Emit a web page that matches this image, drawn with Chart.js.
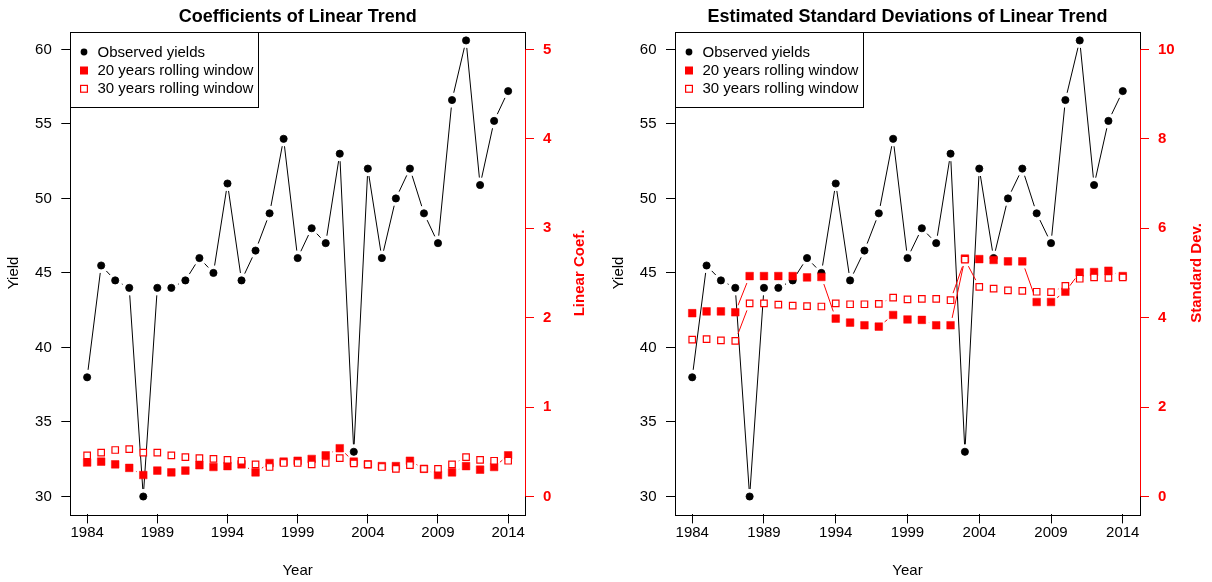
<!DOCTYPE html>
<html>
<head>
<meta charset="utf-8">
<script src="https://cdn.jsdelivr.net/npm/chart.js@4/dist/chart.umd.min.js"></script>
<style>
  body { margin: 0; background: #fff; width: 1212px; height: 582px; overflow: hidden; }
  .panel { position: absolute; top: 0; width: 606px; height: 582px; }
</style>
</head>
<body>
<div class="panel" style="left:0"><canvas id="coefChart"></canvas></div>
<div class="panel" style="left:606px"><canvas id="sdChart"></canvas></div>
<script>
// data
const years = [1984, 1985, 1986, 1987, 1988, 1989, 1990, 1991, 1992, 1993, 1994, 1995, 1996, 1997, 1998,
  1999, 2000, 2001, 2002, 2003, 2004, 2005, 2006, 2007, 2008, 2009, 2010, 2011, 2012, 2013, 2014];
const yields = [38, 45.5, 44.5, 44, 30, 44, 44, 44.5, 46, 45, 51, 44.5, 46.5, 49, 54,
  46, 48, 47, 53, 33, 52, 46, 50, 52, 49, 47, 56.6, 60.6, 50.9, 55.2, 57.2];
const coef20 = [0.38, 0.39, 0.36, 0.32, 0.24, 0.29, 0.27, 0.29, 0.35, 0.33, 0.34, 0.36, 0.27, 0.375, 0.39,
  0.40, 0.42, 0.46, 0.54, 0.39, 0.36, 0.34, 0.34, 0.40, 0.31, 0.24, 0.27, 0.34, 0.30, 0.33, 0.46];
const coef30 = [0.46, 0.49, 0.52, 0.53, 0.49, 0.49, 0.46, 0.44, 0.43, 0.42, 0.41, 0.40, 0.36, 0.33, 0.375,
  0.375, 0.36, 0.375, 0.43, 0.37, 0.36, 0.33, 0.31, 0.35, 0.31, 0.31, 0.36, 0.44, 0.41, 0.40, 0.40];
const sd20 = [4.10, 4.14, 4.14, 4.12, 4.93, 4.93, 4.93, 4.93, 4.90, 4.91, 3.98, 3.89, 3.83, 3.80, 4.06,
  3.96, 3.95, 3.83, 3.83, 5.32, 5.31, 5.29, 5.26, 5.26, 4.35, 4.35, 4.58, 5.01, 5.02, 5.05, 4.93];
const sd30 = [3.51, 3.52, 3.49, 3.48, 4.32, 4.32, 4.29, 4.27, 4.26, 4.25, 4.32, 4.30, 4.30, 4.31, 4.45,
  4.41, 4.42, 4.42, 4.39, 5.30, 4.69, 4.65, 4.61, 4.60, 4.58, 4.57, 4.71, 4.87, 4.90, 4.89, 4.90];

const yearTicks = [1984, 1989, 1994, 1999, 2004, 2009, 2014];
const yieldTicks = [30, 35, 40, 45, 50, 55, 60];
const coefTicks = [0, 1, 2, 3, 4, 5];
const sdTicks = [0, 2, 4, 6, 8, 10];
const seriesLabels = ['Observed yields', '20 years rolling window', '30 years rolling window'];

const FONT = '"Liberation Sans", Arial, Helvetica, sans-serif';
const RED = '#ff0000';
const GAP = 7.5; // R type="b": lines stop short of the points

Chart.defaults.font.family = FONT;
Chart.defaults.font.size = 15;
Chart.defaults.color = '#000';

const toXY = (vals) => vals.map((v, i) => ({ x: years[i], y: v }));

// lines between points, with gaps around each point
const gapLines = {
  id: 'gapLines',
  beforeDatasetsDraw(chart) {
    const ctx = chart.ctx;
    chart.data.datasets.forEach((ds, i) => {
      const pts = chart.getDatasetMeta(i).data;
      ctx.save();
      ctx.strokeStyle = ds.borderColor;
      ctx.lineWidth = 1;
      ctx.beginPath();
      for (let k = 1; k < pts.length; k++) {
        const a = pts[k - 1], b = pts[k];
        const dx = b.x - a.x, dy = b.y - a.y;
        const len = Math.hypot(dx, dy);
        if (len <= 2 * GAP) continue;
        const ux = dx / len, uy = dy / len;
        ctx.moveTo(a.x + ux * GAP, a.y + uy * GAP);
        ctx.lineTo(b.x - ux * GAP, b.y - uy * GAP);
      }
      ctx.stroke();
      ctx.restore();
    });
  }
};

// plot box, red right axis line, legend and right axis title
const decorations = {
  id: 'decorations',
  beforeDatasetsDraw(chart) {
    const { ctx, chartArea: a } = chart;
    ctx.save();
    ctx.strokeStyle = '#000';
    ctx.lineWidth = 1;
    ctx.strokeRect(Math.round(a.left) + 0.5, Math.round(a.top) + 0.5,
      Math.round(a.right - a.left), Math.round(a.bottom - a.top));
    ctx.restore();
  },
  afterDatasetsDraw(chart, args, opts) {
    const { ctx, chartArea: a, scales } = chart;
    const y2 = scales.y2;
    const tks = y2.ticks;
    const xr = Math.round(a.right) + 0.5;
    ctx.save();
    ctx.strokeStyle = RED;
    ctx.lineWidth = 1;
    ctx.beginPath();
    ctx.moveTo(xr, y2.getPixelForValue(tks[0].value));
    ctx.lineTo(xr, y2.getPixelForValue(tks[tks.length - 1].value));
    ctx.stroke();

    // legend
    const lx = Math.round(a.left) + 0.5, ly = Math.round(a.top) + 0.5;
    ctx.fillStyle = '#fff';
    ctx.fillRect(lx, ly, 188, 75);
    ctx.strokeStyle = '#000';
    ctx.strokeRect(lx, ly, 188, 75);
    const rows = [19.5, 38, 56.3];
    ctx.font = '15px ' + FONT;
    ctx.textBaseline = 'middle';
    ctx.textAlign = 'left';
    chart.data.datasets.forEach((ds, r) => {
      const cy = ly + rows[r];
      const cx = lx + 13.5;
      if (ds.pointStyle === 'circle') {
        ctx.fillStyle = '#000';
        ctx.beginPath();
        ctx.arc(cx, cy, 3.4, 0, Math.PI * 2);
        ctx.fill();
      } else if (ds.pointBackgroundColor === RED) {
        ctx.fillStyle = RED;
        ctx.fillRect(cx - 4, cy - 4, 8, 8);
      } else {
        ctx.strokeStyle = RED;
        ctx.lineWidth = 1.2;
        ctx.fillStyle = '#fff';
        ctx.fillRect(cx - 3.4, cy - 3.4, 6.8, 6.8);
        ctx.strokeRect(cx - 3.4, cy - 3.4, 6.8, 6.8);
      }
      ctx.fillStyle = '#000';
      ctx.fillText(ds.label, lx + 27, cy + 0.5);
    });

    // right axis title, reading bottom to top as in R
    ctx.translate(a.right + opts.titleOffset, (a.top + a.bottom) / 2);
    ctx.rotate(-Math.PI / 2);
    ctx.font = 'bold 15px ' + FONT;
    ctx.fillStyle = RED;
    ctx.textAlign = 'center';
    ctx.fillText(opts.rightTitle, 0, 0);
    ctx.restore();
  }
};

function setTicks(list) {
  return (axis) => { axis.ticks = list.map(v => ({ value: v })); };
}

function makeChart(id, title, s20, s30, rightTicks, rightMax, rightTitle, widths) {
  const pad = rightMax * 0.04;
  return new Chart(document.getElementById(id), {
    type: 'scatter',
    data: {
      datasets: [
        {
          label: seriesLabels[0], data: toXY(yields), yAxisID: 'y', order: 3,
          pointStyle: 'circle', pointRadius: 3.6, pointBorderWidth: 0.8,
          borderColor: '#000', pointBackgroundColor: '#000', pointBorderColor: '#000'
        },
        {
          label: seriesLabels[1], data: toXY(s20), yAxisID: 'y2', order: 2,
          pointStyle: 'rect', pointRadius: 5.4, pointBorderWidth: 0.5,
          borderColor: RED, pointBackgroundColor: RED, pointBorderColor: RED
        },
        {
          label: seriesLabels[2], data: toXY(s30), yAxisID: 'y2', order: 1,
          pointStyle: 'rect', pointRadius: 4.6, pointBorderWidth: 1.2,
          borderColor: RED, pointBackgroundColor: '#fff', pointBorderColor: RED
        }
      ]
    },
    options: {
      responsive: true,
      maintainAspectRatio: false,
      animation: false,
      layout: { padding: 0 },
      plugins: {
        legend: { display: false },
        tooltip: { enabled: false },
        title: {
          display: true, text: title, fullSize: false, color: '#000',
          font: { size: 18, weight: 'bold' },
          padding: { top: 6, bottom: 3.9 }
        },
        decorations: { rightTitle: rightTitle, titleOffset: widths.titleOffset }
      },
      scales: {
        x: {
          type: 'linear', min: 1982.8, max: 2015.2,
          afterBuildTicks: setTicks(yearTicks),
          afterFit: (s) => { s.height = 67.6; },
          grid: { drawOnChartArea: false, tickLength: 9, color: '#000' },
          border: { display: false },
          ticks: { autoSkip: false, maxRotation: 0, padding: 0, color: '#000', callback: (v) => String(v) },
          title: { display: true, text: 'Year', color: '#000', padding: { top: 0, bottom: 2.3 } }
        },
        y: {
          type: 'linear', position: 'left', min: 28.8, max: 61.2,
          afterBuildTicks: setTicks(yieldTicks),
          afterFit: (s) => { s.width = widths.left; },
          grid: { drawOnChartArea: false, tickLength: 9, color: '#000' },
          border: { display: false },
          ticks: { padding: 9.5, color: '#000', callback: (v) => String(v) },
          title: { display: true, text: 'Yield', color: '#000', padding: { top: widths.yieldPad, bottom: 0 } }
        },
        y2: {
          type: 'linear', position: 'right', min: -pad, max: rightMax + pad,
          afterBuildTicks: setTicks(rightTicks),
          afterFit: (s) => { s.width = widths.right; },
          grid: { drawOnChartArea: false, tickLength: 9, color: RED },
          border: { display: false },
          ticks: { padding: 9, color: RED, font: { weight: 'bold' }, callback: (v) => String(v) }
        }
      }
    },
    plugins: [gapLines, decorations]
  });
}

makeChart('coefChart', 'Coefficients of Linear Trend', coef20, coef30, coefTicks, 5,
  'Linear Coef.', { left: 70.3, right: 81, titleOffset: 55, yieldPad: 5 });
makeChart('sdChart', 'Estimated Standard Deviations of Linear Trend', sd20, sd30, sdTicks, 10,
  'Standard Dev.', { left: 69, right: 72, titleOffset: 57, yieldPad: 4 });
</script>
</body>
</html>
